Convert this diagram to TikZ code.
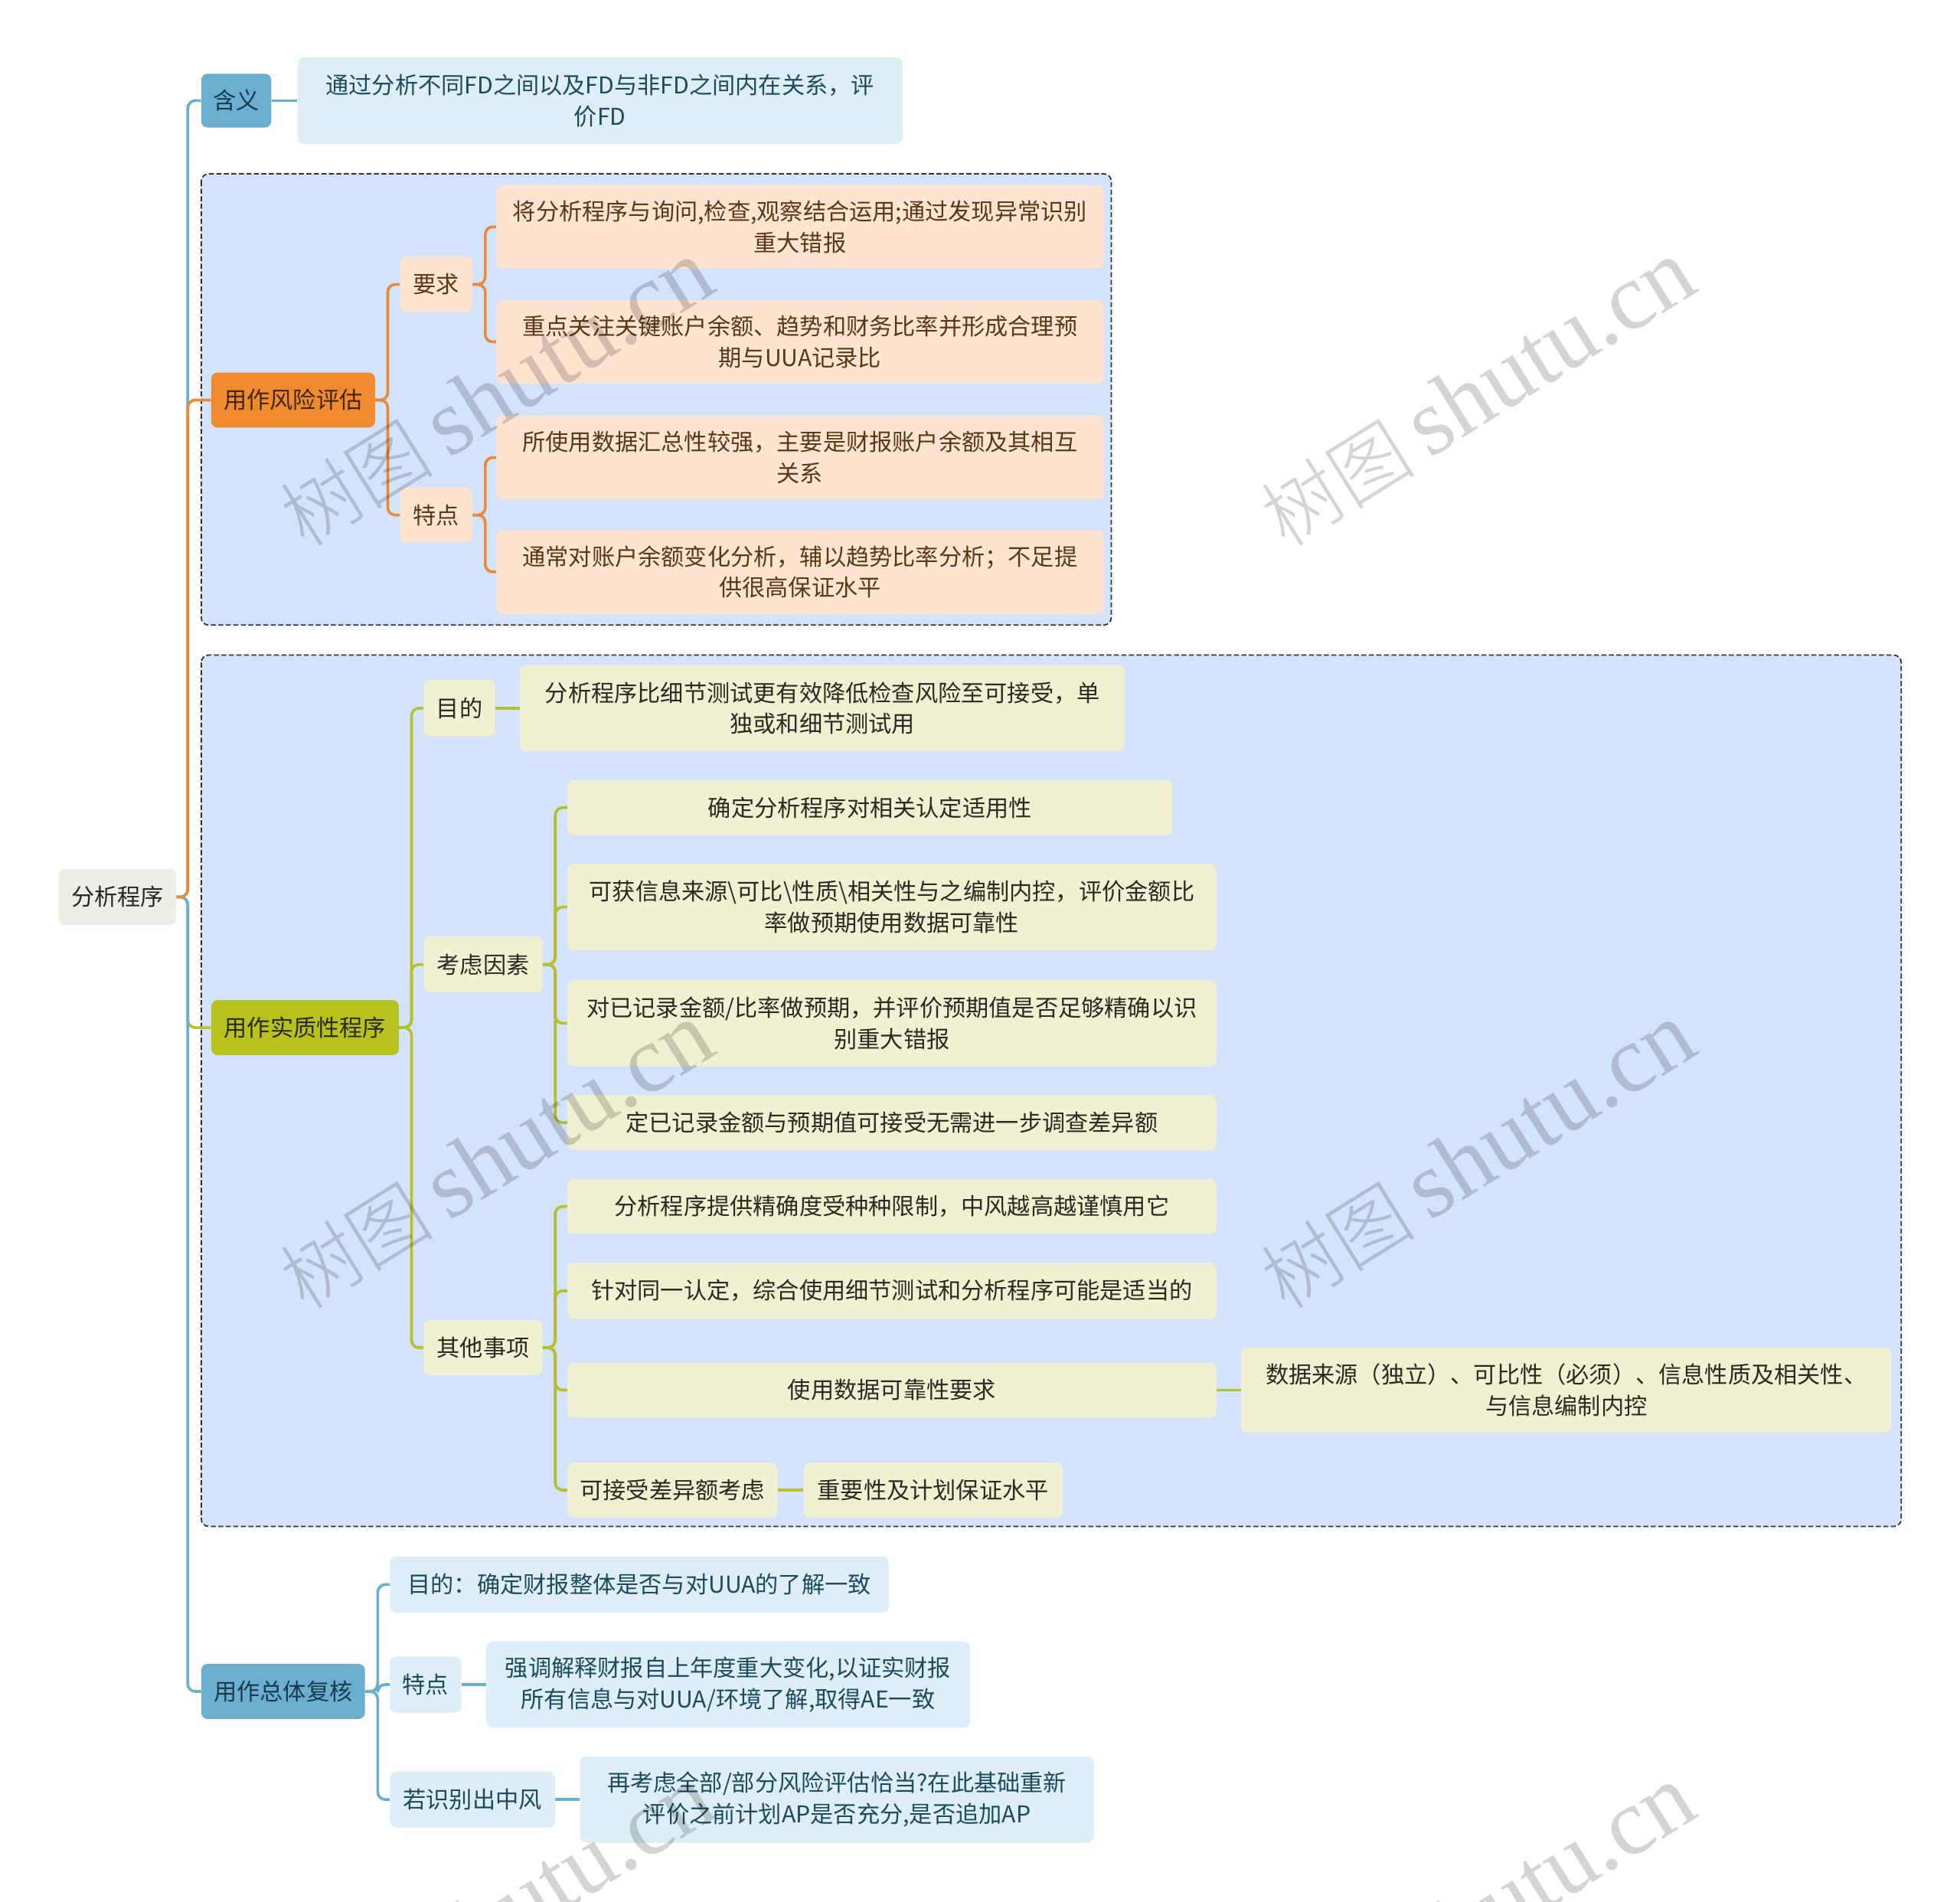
\documentclass[tikz,border=0pt]{standalone}
\usepackage{fontspec}
\setmainfont{Noto Sans CJK SC}
\newfontfamily\wmserif{Liberation Serif}
\newfontfamily\wmcjk{Noto Sans CJK SC Light}
\definecolor{rootC}{HTML}{EEEEE6}
\definecolor{blueM}{HTML}{6AAED0}
\definecolor{blueL}{HTML}{DDEEF6}
\definecolor{blueT}{HTML}{1E4A5E}
\definecolor{orangeM}{HTML}{F08A2E}
\definecolor{orangeC}{HTML}{E98A38}
\definecolor{peachL}{HTML}{FDE4D0}
\definecolor{brownT}{HTML}{5A3716}
\definecolor{oliveM}{HTML}{B7C21E}
\definecolor{oliveC}{HTML}{B5BF2A}
\definecolor{oliveL}{HTML}{F0F0D2}
\definecolor{oliveT}{HTML}{2A2A20}
\definecolor{regionC}{HTML}{D3E3FB}
\definecolor{dashC}{HTML}{333333}
\tikzset{
  box/.style={rounded corners=5pt, inner sep=0pt, align=center, font=\fontsize{18.5}{25}\selectfont},
  rootbox/.style={box, fill=rootC, text=black!85},
  bluebox/.style={box, fill=blueM, text=blueT!80!black},
  lbluebox/.style={box, fill=blueL, text=blueT},
  orangebox/.style={box, fill=orangeM, text=brownT!70!black},
  peachbox/.style={box, fill=peachL, text=brownT},
  olivebox/.style={box, fill=oliveM, text=oliveT},
  lolivebox/.style={box, fill=oliveL, text=oliveT},
  region/.style={fill=regionC, draw=dashC, line width=1.1pt, dash pattern=on 4pt off 2pt, rounded corners=6pt},
  conn/.style={draw=#1, line width=2.2pt, rounded corners=6pt},
  wm/.style={text=black, opacity=0.17, rotate=32, inner sep=0pt},
}
\begin{document}
\begin{tikzpicture}[x=1pt,y=-1pt]
\useasboundingbox (0,0) rectangle (1568,1521);
\fill[white] (0,0) rectangle (1568,1521);

% regions
\path[region] (161,139) rectangle (889,500);
\path[region] (161,524) rectangle (1521,1221);

% root
\node[rootbox, minimum width=94pt, minimum height=45pt] (root) at (94,717.5) {分析程序};

% main branches
\node[bluebox, minimum width=56pt, minimum height=43pt] (hy) at (189,80.5) {含义};
\node[orangebox, minimum width=131pt, minimum height=44pt] (fx) at (234.5,320) {用作风险评估};
\node[olivebox, minimum width=150pt, minimum height=44pt] (sz) at (244,822) {用作实质性程序};
\node[bluebox, minimum width=131pt, minimum height=44pt] (zt) at (226.5,1353) {用作总体复核};

% 含义
\node[lbluebox, minimum width=484pt, minimum height=69pt] (hyt) at (480,80.5) {通过分析不同FD之间以及FD与非FD之间内在关系，评\\价FD};

% 风险评估
\node[peachbox, minimum width=58pt, minimum height=45pt] (yq) at (349,227.5) {要求};
\node[peachbox, minimum width=58pt, minimum height=44pt] (td) at (349,412) {特点};
\node[peachbox, minimum width=486pt, minimum height=67pt] (p1) at (640,181.5) {将分析程序与询问,检查,观察结合运用;通过发现异常识别\\重大错报};
\node[peachbox, minimum width=486pt, minimum height=67pt] (p2) at (640,273.5) {重点关注关键账户余额、趋势和财务比率并形成合理预\\期与UUA记录比};
\node[peachbox, minimum width=486pt, minimum height=67pt] (p3) at (640,366) {所使用数据汇总性较强，主要是财报账户余额及其相互\\关系};
\node[peachbox, minimum width=486pt, minimum height=67pt] (p4) at (640,457.5) {通常对账户余额变化分析，辅以趋势比率分析；不足提\\供很高保证水平};

% 实质性程序
\node[lolivebox, minimum width=57pt, minimum height=45pt] (md) at (367.5,566.5) {目的};
\node[lolivebox, minimum width=484pt, minimum height=69pt] (mdt) at (658,566.5) {分析程序比细节测试更有效降低检查风险至可接受，单\\独或和细节测试用};
\node[lolivebox, minimum width=95pt, minimum height=45pt] (kl) at (386.5,771.5) {考虑因素};
\node[lolivebox, minimum width=95pt, minimum height=44pt] (qt) at (386.5,1078) {其他事项};
\node[lolivebox, minimum width=484pt, minimum height=44pt] (k1) at (696,646) {确定分析程序对相关认定适用性};
\node[lolivebox, minimum width=519pt, minimum height=69pt] (k2) at (713.5,725.5) {可获信息来源\textbackslash 可比\textbackslash 性质\textbackslash 相关性与之编制内控，评价金额比\\率做预期使用数据可靠性};
\node[lolivebox, minimum width=519pt, minimum height=69pt] (k3) at (713.5,818.5) {对已记录金额/比率做预期，并评价预期值是否足够精确以识\\别重大错报};
\node[lolivebox, minimum width=519pt, minimum height=44pt] (k4) at (713.5,898) {定已记录金额与预期值可接受无需进一步调查差异额};
\node[lolivebox, minimum width=519pt, minimum height=44pt] (q1) at (713.5,965) {分析程序提供精确度受种种限制，中风越高越谨慎用它};
\node[lolivebox, minimum width=519pt, minimum height=45pt] (q2) at (713.5,1032.5) {针对同一认定，综合使用细节测试和分析程序可能是适当的};
\node[lolivebox, minimum width=519pt, minimum height=44pt] (q3) at (713.5,1112) {使用数据可靠性要求};
\node[lolivebox, minimum width=520pt, minimum height=68pt] (q3b) at (1253,1112) {数据来源（独立）、可比性（必须）、信息性质及相关性、\\与信息编制内控};
\node[lolivebox, minimum width=168pt, minimum height=44pt] (q4) at (538,1192) {可接受差异额考虑};
\node[lolivebox, minimum width=207pt, minimum height=44pt] (q4b) at (746.5,1192) {重要性及计划保证水平};

% 总体复核
\node[lbluebox, minimum width=399pt, minimum height=45pt] (r1) at (511.5,1267.5) {目的：确定财报整体是否与对UUA的了解一致};
\node[lbluebox, minimum width=57pt, minimum height=45pt] (td2) at (340.5,1347.5) {特点};
\node[lbluebox, minimum width=387pt, minimum height=69pt] (r2) at (582.5,1347.5) {强调解释财报自上年度重大变化,以证实财报\\所有信息与对UUA/环境了解,取得AE一致};
\node[lbluebox, minimum width=132pt, minimum height=45pt] (sb) at (378,1439.5) {若识别出中风};
\node[lbluebox, minimum width=411pt, minimum height=69pt] (r3) at (669.5,1439.5) {再考虑全部/部分风险评估恰当?在此基础重新\\评价之前计划AP是否充分,是否追加AP};

% connectors: trunk
\draw[conn=blueM] (root.east) -- ++(9,0) |- (hy.west);
\draw[conn=oliveC] (root.east) -- ++(9,0) |- (sz.west);
\draw[conn=blueM] (root.east) -- ++(9,0) |- (zt.west);
\draw[conn=orangeC] (root.east) -- ++(9,0) |- (fx.west);

% 含义
\draw[conn=blueM] (hy.east) -- (hyt.west);

% 风险评估
\draw[conn=orangeC] (fx.east) -- ++(10,0) |- (yq.west);
\draw[conn=orangeC] (fx.east) -- ++(10,0) |- (td.west);
\draw[conn=orangeC] (yq.east) -- ++(10,0) |- (p1.west);
\draw[conn=orangeC] (yq.east) -- ++(10,0) |- (p2.west);
\draw[conn=orangeC] (td.east) -- ++(10,0) |- (p3.west);
\draw[conn=orangeC] (td.east) -- ++(10,0) |- (p4.west);

% 实质性程序
\draw[conn=oliveC] (sz.east) -- ++(10,0) |- (md.west);
\draw[conn=oliveC] (sz.east) -- ++(10,0) |- (kl.west);
\draw[conn=oliveC] (sz.east) -- ++(10,0) |- (qt.west);
\draw[conn=oliveC] (md.east) -- (mdt.west);
\draw[conn=oliveC] (kl.east) -- ++(10,0) |- (k1.west);
\draw[conn=oliveC] (kl.east) -- ++(10,0) |- (k2.west);
\draw[conn=oliveC] (kl.east) -- ++(10,0) |- (k3.west);
\draw[conn=oliveC] (kl.east) -- ++(10,0) |- (k4.west);
\draw[conn=oliveC] (qt.east) -- ++(10,0) |- (q1.west);
\draw[conn=oliveC] (qt.east) -- ++(10,0) |- (q2.west);
\draw[conn=oliveC] (qt.east) -- ++(10,0) |- (q3.west);
\draw[conn=oliveC] (qt.east) -- ++(10,0) |- (q4.west);
\draw[conn=oliveC] (q3.east) -- (q3b.west);
\draw[conn=oliveC] (q4.east) -- (q4b.west);

% 总体复核
\draw[conn=blueM] (zt.east) -- ++(10,0) |- (r1.west);
\draw[conn=blueM] (zt.east) -- ++(10,0) |- (td2.west);
\draw[conn=blueM] (zt.east) -- ++(10,0) |- (sb.west);
\draw[conn=blueM] (td2.east) -- (r2.west);
\draw[conn=blueM] (sb.east) -- (r3.west);

% watermarks
\begin{scope}
\clip (0,0) rectangle (1568,1521);
\foreach \i/\cx/\cy in {1/397/315, 2/1182/315, 3/397/925, 4/1182/925, 5/397/1535, 6/1182/1535}{
  \node[wm] (wm\i) at (\cx,\cy) {\fontsize{62}{62}\selectfont\wmcjk 树图\hspace{12pt}\fontsize{76}{76}\selectfont\wmserif shutu.cn};
}
\end{scope}
\end{tikzpicture}
\end{document}
